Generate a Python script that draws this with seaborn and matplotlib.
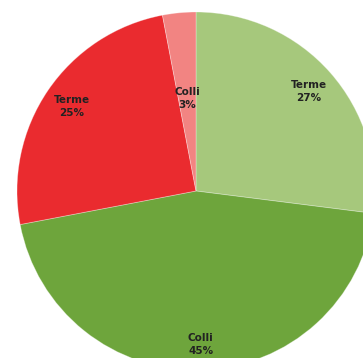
import numpy as np
import matplotlib
matplotlib.use("Agg")
import matplotlib.pyplot as plt
import seaborn as sns

labels = ["Terme", "Colli", "Terme", "Colli"]
values = [27, 45, 25, 3]
colors = ["#A6C87C", "#6EA53C", "#EA2B2F", "#F28482"]
label_radius = [0.84, 0.86, 0.84, 0.52]

sns.set_style("white")
plt.rcParams['font.family'] = ['DejaVu Sans']

fig = plt.figure(figsize=(3.63, 3.58), dpi=100)
ax = fig.add_axes([17/363, -12/358, 358/363, 358/358])
wedges, _ = ax.pie(values, colors=colors, startangle=90, counterclock=False,
                   radius=1.0, wedgeprops=dict(edgecolor=(1, 1, 1, 0.35), linewidth=0.6))
for w, lab, v, r in zip(wedges, labels, values, label_radius):
    ang = np.deg2rad((w.theta1 + w.theta2) / 2)
    ax.text(r * np.cos(ang), r * np.sin(ang), f"{lab}\n{v}%", ha="center", va="center",
            fontsize=7.5, fontweight="bold", color="#222222", linespacing=1.4)
ax.set_xlim(-1, 1)
ax.set_ylim(-1, 1)
ax.set_aspect("equal")
ax.axis("off")
fig.savefig("out.png", dpi=100)
